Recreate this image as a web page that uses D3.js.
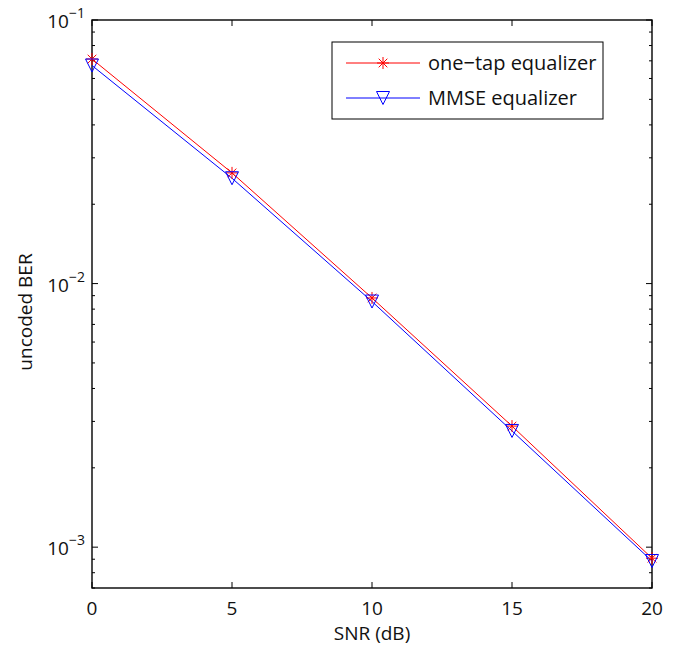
<!DOCTYPE html>
<html>
<head>
<meta charset="utf-8">
<script src="https://cdn.jsdelivr.net/npm/d3@7"></script>
<style>
  body { margin: 0; background: #fff; }
  text { font-family: "Open Sans", "DejaVu Sans", sans-serif; fill: #111; }
</style>
</head>
<body>
<div id="chart"></div>
<script>
// data
var snr = [0, 5, 10, 15, 20];
var oneTapBer = [0.0711, 0.0263, 0.00882, 0.00288, 0.000908];
var mmseBer   = [0.0672, 0.0251, 0.00855, 0.00276, 0.000886];
var xTicks = [0, 5, 10, 15, 20];
var yDecades = [-1, -2, -3];
var seriesNames = ["one\u2212tap equalizer", "MMSE equalizer"];

var W = 685, H = 646;
var pLeft = 92, pRight = 652, pTop = 20, pBottom = 588;

var svg = d3.select("#chart").append("svg")
    .attr("width", W)
    .attr("height", H);

var x = d3.scaleLinear().domain([0, 20]).range([pLeft, pRight]);
var y = d3.scaleLog().domain([7e-4, 0.1]).range([pBottom, pTop]);

// minor ticks on log axis
var minor = [];
[1e-4, 1e-3, 1e-2].forEach(function(dec) {
  for (var k = 2; k <= 9; k++) {
    var v = dec * k;
    if (v >= 6.99e-4 && v <= 0.1) minor.push(v);
  }
});

var g = svg.append("g");

// x ticks (bottom and top, inward)
xTicks.forEach(function(t) {
  g.append("line").attr("x1", x(t)).attr("x2", x(t)).attr("y1", pBottom).attr("y2", pBottom - 6)
    .attr("stroke", "#000").attr("stroke-width", 1);
  g.append("line").attr("x1", x(t)).attr("x2", x(t)).attr("y1", pTop).attr("y2", pTop + 6)
    .attr("stroke", "#000").attr("stroke-width", 1);
  g.append("text").attr("x", x(t)).attr("y", 615)
    .attr("text-anchor", "middle").style("font-size", "19px").text(t);
});

// y ticks
yDecades.forEach(function(e) {
  var v = Math.pow(10, e);
  g.append("line").attr("x1", pLeft).attr("x2", pLeft + 6).attr("y1", y(v)).attr("y2", y(v))
    .attr("stroke", "#000");
  g.append("line").attr("x1", pRight).attr("x2", pRight - 6).attr("y1", y(v)).attr("y2", y(v))
    .attr("stroke", "#000");
  var t = g.append("text").attr("x", 85).attr("y", y(v) + 8)
    .attr("text-anchor", "end").style("font-size", "19px");
  t.append("tspan").text("10");
  t.append("tspan").attr("dy", -10).style("font-size", "14px").text("\u2212" + (-e));
});
minor.forEach(function(v) {
  g.append("line").attr("x1", pLeft).attr("x2", pLeft + 3).attr("y1", y(v)).attr("y2", y(v))
    .attr("stroke", "#000");
  g.append("line").attr("x1", pRight).attr("x2", pRight - 3).attr("y1", y(v)).attr("y2", y(v))
    .attr("stroke", "#000");
});

// axes box
g.append("rect").attr("x", pLeft).attr("y", pTop)
  .attr("width", pRight - pLeft).attr("height", pBottom - pTop)
  .attr("fill", "none").attr("stroke", "#000").attr("stroke-width", 1.4);

// axis titles
svg.append("text").attr("x", (pLeft + pRight) / 2).attr("y", 640)
  .attr("text-anchor", "middle").style("font-size", "19px").text("SNR (dB)");
svg.append("text").attr("transform", "translate(32,312) rotate(-90)")
  .attr("text-anchor", "middle").style("font-size", "19px").text("uncoded BER");

var line = d3.line().x(function(d) { return x(d[0]); }).y(function(d) { return y(d[1]); });

function star(sel, cx, cy, r, col) {
  var a = r * 0.72;
  var p = "M" + (cx - r) + "," + cy + "H" + (cx + r) +
          "M" + cx + "," + (cy - r) + "V" + (cy + r) +
          "M" + (cx - a) + "," + (cy - a) + "L" + (cx + a) + "," + (cy + a) +
          "M" + (cx - a) + "," + (cy + a) + "L" + (cx + a) + "," + (cy - a);
  sel.append("path").attr("d", p).attr("stroke", col).attr("fill", "none").attr("stroke-width", 1);
}
function tri(sel, cx, cy, r, col) {
  var p = "M" + (cx - r) + "," + (cy - r) + "L" + (cx + r) + "," + (cy - r) +
          "L" + cx + "," + (cy + r) + "Z";
  sel.append("path").attr("d", p).attr("stroke", col).attr("fill", "none").attr("stroke-width", 1);
}

var red = "#f00", blue = "#00f";
var redData = snr.map(function(s, i) { return [s, oneTapBer[i]]; });
var blueData = snr.map(function(s, i) { return [s, mmseBer[i]]; });

svg.append("path").datum(redData).attr("d", line)
  .attr("fill", "none").attr("stroke", red).attr("stroke-width", 1);
svg.append("path").datum(blueData).attr("d", line)
  .attr("fill", "none").attr("stroke", blue).attr("stroke-width", 1);

redData.forEach(function(d) { star(svg, x(d[0]), y(d[1]), 6, red); });
blueData.forEach(function(d) { tri(svg, x(d[0]), y(d[1]), 6.5, blue); });

// legend
var lg = svg.append("g");
lg.append("rect").attr("x", 332).attr("y", 42).attr("width", 271).attr("height", 77)
  .attr("fill", "#fff").attr("stroke", "#000").attr("stroke-width", 1);
lg.append("line").attr("x1", 346).attr("x2", 420).attr("y1", 63).attr("y2", 63)
  .attr("stroke", red);
star(lg, 383, 63, 6, red);
lg.append("line").attr("x1", 346).attr("x2", 420).attr("y1", 98).attr("y2", 98)
  .attr("stroke", blue);
tri(lg, 383, 98, 6.5, blue);
lg.append("text").attr("x", 428).attr("y", 70).style("font-size", "20px").text(seriesNames[0]);
lg.append("text").attr("x", 428).attr("y", 105).style("font-size", "20px").text(seriesNames[1]);
</script>
</body>
</html>
